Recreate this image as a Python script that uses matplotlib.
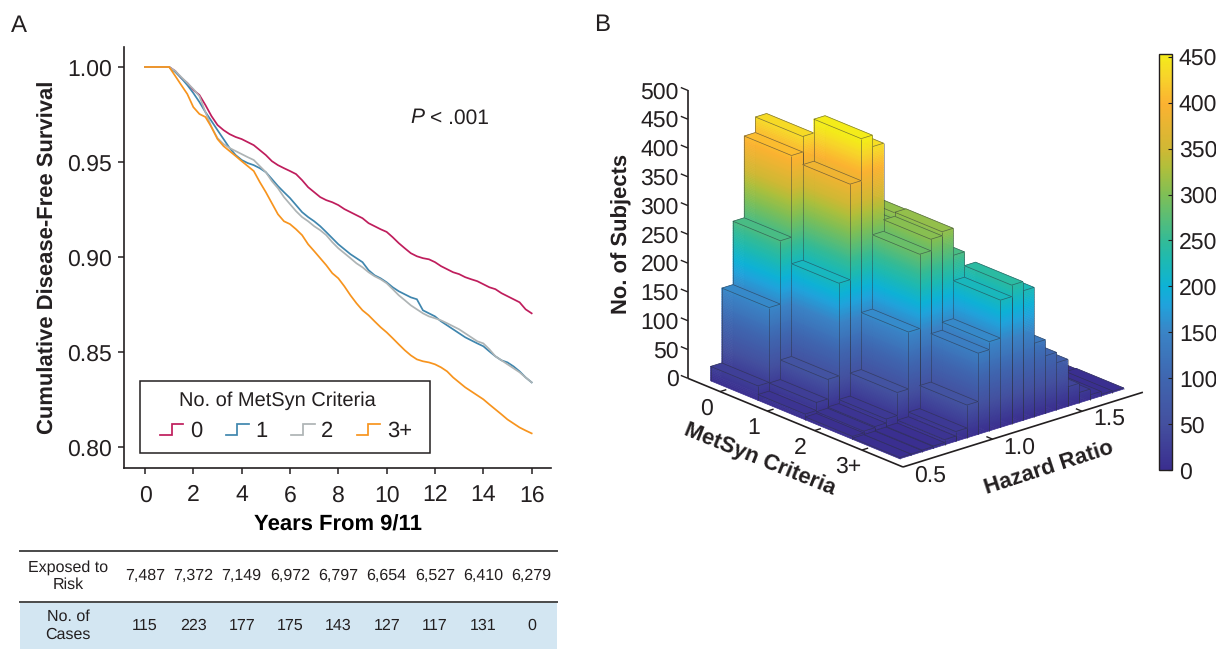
import numpy as np
import matplotlib
matplotlib.use('Agg')
import matplotlib.pyplot as plt
from matplotlib.colors import LinearSegmentedColormap, Normalize
from matplotlib.cm import ScalarMappable
from matplotlib.legend_handler import HandlerLine2D
from matplotlib.lines import Line2D
from matplotlib.patches import Rectangle
from matplotlib.transforms import blended_transform_factory
from mpl_toolkits.mplot3d import proj3d
from mpl_toolkits.mplot3d.art3d import Poly3DCollection, Line3DCollection

plt.rcParams['font.family'] = ['Liberation Sans', 'DejaVu Sans']
plt.rcParams['text.hinting'] = 'none'
plt.rcParams['text.hinting_factor'] = 1
INK = '#231f20'
plt.rcParams['text.color'] = INK

# ---------- data ----------
years = [0, 1, 1.25, 1.5, 1.75, 2, 2.25, 2.5, 2.75, 3, 3.25, 3.5, 3.75, 4, 4.25, 4.5, 4.75, 5, 5.25, 5.5, 5.75,
         6, 6.25, 6.5, 6.75, 7, 7.25, 7.5, 7.75, 8, 8.25, 8.5, 8.75, 9, 9.25, 9.5, 9.75, 10, 10.25, 10.5, 10.75,
         11, 11.25, 11.5, 11.75, 12, 12.25, 12.5, 12.75, 13, 13.25, 13.5, 13.75, 14, 14.25, 14.5, 14.75,
         15, 15.25, 15.5, 15.75, 16]
surv_0 = [1, 1, .9979, .9942, .9916, .9879, .9853, .98, .9742, .9695, .9668, .9647, .9632, .9621, .9605, .9589,
          .9563, .9537, .9505, .9484, .9468, .9453, .9437, .9405, .9368, .9342, .9316, .93, .9289, .9274, .9253,
          .9237, .9221, .9205, .9179, .9163, .9147, .9133, .9105, .9074, .9047, .9021, .9005, .8995, .8989, .8974,
          .8953, .8937, .8921, .8911, .8895, .8884, .8874, .8858, .8842, .8832, .8811, .8795, .8779, .8763, .8726, .8705]
surv_1 = [1, 1, .9974, .9942, .9905, .9863, .9816, .9763, .9716, .9668, .9621, .9574, .9537, .9511, .9495, .9484,
          .9468, .9447, .9411, .9374, .9342, .9311, .9274, .9237, .9211, .9189, .9163, .9132, .91, .9068, .9042,
          .9016, .8995, .8974, .8932, .8905, .8889, .8868, .8842, .8821, .8805, .8789, .8779, .8721, .8705, .8689,
          .8663, .8642, .8621, .86, .8579, .8563, .8547, .8532, .8505, .8479, .8458, .8447, .8426, .84, .8368, .8342]
surv_2 = [1, 1, .9979, .9947, .9916, .9884, .9847, .9763, .9684, .9626, .9595, .9574, .9558, .9542, .9526, .9511,
          .9479, .9447, .94, .9363, .9316, .9279, .9242, .9211, .9189, .9163, .9142, .9116, .9079, .9047, .9021,
          .8995, .8968, .8947, .8921, .89, .8884, .8863, .8832, .88, .8774, .8747, .8726, .8705, .8689, .8679,
          .8668, .8653, .8637, .8621, .86, .8579, .8558, .8547, .8516, .8479, .8458, .8437, .8416, .8395, .8368, .8342]
surv_3 = [1, 1, .9953, .9905, .9858, .9789, .9753, .9737, .9684, .9621, .9584, .9558, .9532, .9505, .9479, .9453,
          .9395, .9342, .9284, .9226, .9189, .9174, .9147, .9116, .9068, .9032, .8995, .8958, .8916, .8889, .8847,
          .88, .8758, .8721, .8695, .8663, .8632, .8605, .8574, .8542, .8511, .8484, .8463, .8453, .8447, .8437,
          .8421, .84, .8368, .8342, .8316, .8295, .8274, .8253, .8226, .82, .8174, .8147, .8126, .8105, .8089, .8074]
legend_labels = ['0', '1', '2', '3+']
curve_colors = ['#bf1d5c', '#3f86ae', '#aeb4b5', '#f7941e']

table_years = [0, 2, 4, 6, 8, 10, 12, 14, 16]
exposed = ['7,487', '7,372', '7,149', '6,972', '6,797', '6,654', '6,527', '6,410', '6,279']
cases = ['115', '223', '177', '175', '143', '127', '117', '131', '0']

metsyn_labels = ['0', '1', '2', '3+']
subjects_0 = [25, 155, 265, 407, 434, 380, 330, 230, 170, 120, 90, 60, 40, 25, 15, 8, 4, 2, 1, 1]
subjects_1 = [10, 24, 58, 219, 385, 458, 438, 300, 311, 275, 235, 185, 135, 95, 65, 40, 22, 12, 5, 2]
subjects_2 = [5, 8, 10, 17, 57, 156, 285, 305, 312, 265, 200, 140, 90, 60, 35, 20, 10, 5, 3, 1]
subjects_3 = [2, 2, 3, 4, 9, 17, 57, 141, 155, 221, 241, 225, 128, 100, 82, 34, 18, 8, 3, 2]
hr_ticks = [0.5, 1.0, 1.5]
z_ticks = [0, 50, 100, 150, 200, 250, 300, 350, 400, 450, 500]
cbar_ticks = [0, 50, 100, 150, 200, 250, 300, 350, 400, 450]

cmap_stops = [(0, '#3a2e8f'), (50, '#44509f'), (100, '#3f66b0'), (150, '#3a84c6'), (180, '#20a3dc'),
              (200, '#0db2d6'), (230, '#1fbab0'), (250, '#33bb97'), (300, '#7fbf56'), (330, '#b0bf3b'),
              (350, '#d0b834'), (400, '#fcb231'), (430, '#f7d52a'), (453, '#f4ec1a')]

# ---------- figure ----------
W, H = 1216, 649
fig = plt.figure(figsize=(W / 100, H / 100), dpi=100, facecolor='white')


def box(l, t, r, b):
    return [l / W, 1 - b / H, (r - l) / W, (b - t) / H]


FS = 16.5
BOLD = 15.8
# ---------- panel A ----------
ax = fig.add_axes(box(124, 47, 551, 468))
for s, c in zip([surv_0, surv_1, surv_2, surv_3], curve_colors):
    ax.plot(years, s, color=c, lw=1.25, solid_joinstyle='miter')
ax.set_xlim(-0.869, 16.8)
ax.set_ylim(0.7892, 1.0105)
ax.set_xticks(range(0, 17, 2))
ax.set_yticks([0.80, 0.85, 0.90, 0.95, 1.00], ['0.80', '0.85', '0.90', '0.95', '1.00'])
ax.tick_params(labelsize=FS, length=4.6, width=1.1, color=INK, labelcolor=INK)
ax.tick_params(axis='x', pad=7.5)
ax.tick_params(axis='y', pad=4)
for k in ('top', 'right'):
    ax.spines[k].set_visible(False)
for k in ('left', 'bottom'):
    ax.spines[k].set_linewidth(1.2)
    ax.spines[k].set_color(INK)
ax.set_xlabel('Years From 9/11', fontsize=BOLD, fontweight='bold', labelpad=6)
fig.text(48 / W, 1 - 257 / H, 'Cumulative Disease-Free Survival', rotation=90, fontsize=BOLD,
         fontweight='bold', ha='center', va='center')
fig.text(410 / W, 1 - 118 / H, 'P', fontsize=15, style='italic', ha='left', va='center')
fig.text(430 / W, 1 - 118 / H, '< .001', fontsize=15, ha='left', va='center')


class StepHandler(HandlerLine2D):
    def create_artists(self, legend, orig, xd, yd, width, height, fontsize, trans):
        x0, y0 = -xd, -yd
        line = Line2D([x0, x0 + .5 * width, x0 + .5 * width, x0 + width],
                      [y0 + .1 * height, y0 + .1 * height, y0 + .8 * height, y0 + .8 * height],
                      color=orig.get_color(), lw=1.25, transform=trans, solid_joinstyle='miter')
        return [line]


handles = [Line2D([], [], color=c) for c in curve_colors]
ax.add_patch(Rectangle((140 / W, 1 - 453 / H), 290 / W, 72 / H, transform=fig.transFigure, facecolor='white',
                       edgecolor=INK, lw=1.1, zorder=4.5, clip_on=False))
ax.text(277 / W, 1 - 401 / H, 'No. of MetSyn Criteria', transform=fig.transFigure, fontsize=14.4,
        ha='center', va='center', zorder=6, clip_on=False)
leg = ax.legend(handles, legend_labels, ncols=4, fontsize=16, loc='center',
                bbox_to_anchor=(286 / W, 1 - 431 / H),
                bbox_transform=fig.transFigure, frameon=False, handlelength=1.05, handletextpad=0.3,
                columnspacing=1.05, borderpad=0.2, labelspacing=0.3, handler_map={Line2D: StepHandler()})

# table
trans = blended_transform_factory(ax.transData, fig.transFigure)
fig.add_artist(Rectangle((20 / W, 0), 537 / W, 1 - 602 / H, transform=fig.transFigure,
                         facecolor='#d3e6f2', edgecolor='none', zorder=-1))
for yy in (551, 602):
    fig.add_artist(Line2D([20 / W, 557 / W], [1 - yy / H] * 2, color='#4a4a4a', lw=1.4))
for x, e, c in zip(table_years, exposed, cases):
    ax.text(x, 1 - 576 / H, e, transform=trans, ha='center', va='center', fontsize=11.3, clip_on=False)
    ax.text(x, 1 - 626 / H, c, transform=trans, ha='center', va='center', fontsize=11.3, clip_on=False)
fig.text(68 / W, 1 - 576 / H, 'Exposed to\nRisk', ha='center', va='center', fontsize=11.3, linespacing=1.25)
fig.text(68 / W, 1 - 626 / H, 'No. of\nCases', ha='center', va='center', fontsize=11.3, linespacing=1.25)
fig.text(11 / W, 1 - 26 / H, 'A', fontsize=17.5, ha='left', va='center')
fig.text(594 / W, 1 - 25 / H, 'B', fontsize=17.5, ha='left', va='center')

# ---------- panel B ----------
cmap = LinearSegmentedColormap.from_list('parulaish', [(v / 453, c) for v, c in cmap_stops])
norm = Normalize(0, 453)
HR0, HR1 = 0.5, 1.84
Y_BACK, Y_FRONT = -0.68, 3.87

S = 600.0
ax3 = fig.add_axes(box(600, 0, 600 + S, S), projection='3d', computed_zorder=False, proj_type='ortho')
ax3.set_xlim(HR0, HR1)
ax3.set_ylim(Y_FRONT, Y_BACK)
ax3.set_zlim(0, 500)
ax3.set_autoscale_on(False)
ax3.set_box_aspect((318, 328, 308.5))
ax3.view_init(elev=21, azim=-131)
ax3.set_axis_off()
ax3.patch.set_alpha(0)


def disp(x, y, z):
    ax3.apply_aspect()
    xs, ys, _ = proj3d.proj_transform(x, y, z, ax3.get_proj())
    return ax3.transData.transform((xs, ys))


# fit the box on the canvas
span = disp(HR1, Y_FRONT, 0)[0] - disp(HR0, Y_BACK, 0)[0]
S = S * (1143 - 688) / span
ax3.set_position(box(600, 0, 600 + S, S))
p = disp(HR0, Y_FRONT, 0)
dx, dy = 903 - p[0], (H - 467) - p[1]
pos = ax3.get_position(original=True)
ax3.set_position([pos.x0 + dx / W, pos.y0 + dy / H, pos.width, pos.height])

rows = [subjects_0, subjects_1, subjects_2, subjects_3]
BIN = 1 / 16
STEP = 3.0
order = 10
for r, row in enumerate(rows):
    y0, y1 = r - 0.40, r + 0.60
    for j in range(len(row) - 1, -1, -1):
        h = row[j]
        x0, x1 = HR0 + (j + 0.85) * BIN, HR0 + (j + 1.85) * BIN
        levels = list(np.arange(0, h, STEP)) + [h]
        polys, cols = [], []
        for a, b in zip(levels[:-1], levels[1:]):
            col = cmap(norm((a + b) / 2))
            polys.append([(x0, y0, a), (x0, y1, a), (x0, y1, b), (x0, y0, b)])
            cols.append(col)
            polys.append([(x0, y1, a), (x1, y1, a), (x1, y1, b), (x0, y1, b)])
            cols.append(col)
        polys.append([(x0, y0, h), (x1, y0, h), (x1, y1, h), (x0, y1, h)])
        cols.append(cmap(norm(h)))
        pc = Poly3DCollection(polys, facecolors=cols, edgecolors=cols, linewidths=0.5, zorder=order)
        ax3.add_collection3d(pc, autolim=False)
        segs = [[(x0, y0, h), (x0, y1, h)], [(x0, y1, h), (x1, y1, h)], [(x1, y1, h), (x1, y0, h)],
                [(x1, y0, h), (x0, y0, h)], [(x0, y1, 0), (x0, y1, h)], [(x1, y1, 0), (x1, y1, h)],
                [(x0, y0, 0), (x0, y0, h)]]
        lc = Line3DCollection(segs, colors='#2b2f3a', linewidths=0.5, alpha=0.6, zorder=order + 0.5)
        ax3.add_collection3d(lc, autolim=False)
        order += 1

AXK = dict(color=INK, lw=1.2, zorder=5, solid_capstyle='butt')
TK = dict(color=INK, lw=1.0, zorder=5, solid_capstyle='butt')
ax3.plot([HR0, HR0], [Y_BACK, Y_BACK], [0, 500], **AXK)
ax3.plot([HR0, HR0], [Y_BACK, Y_FRONT], [0, 0], **AXK)
ax3.plot([HR0, HR1], [Y_FRONT, Y_FRONT], [0, 0], **AXK)


def lab(txt, pt, ox, oy, **kw):
    ax3.annotate(txt, xy=pt, xycoords='figure pixels', xytext=(ox, oy), textcoords='offset pixels',
                 annotation_clip=False, fontsize=FS, **kw)


for z in z_ticks:
    ax3.plot([HR0, HR0], [Y_BACK, Y_BACK - 0.15], [z, z], **TK)
    lab(str(z), disp(HR0, Y_BACK, z), -9, -2, ha='right', va='center')
for i, t in enumerate(metsyn_labels):
    ax3.plot([HR0, HR0 + 0.035], [i, i], [0, 0], **TK)
    lab(t, disp(HR0, i, 0), -14, -17, ha='center', va='center')
for t in hr_ticks:
    if t > HR0:
        ax3.plot([t, t], [Y_FRONT, Y_FRONT - 0.13], [0, 0], **TK)
    lab(f'{t:.1f}', disp(t, Y_FRONT, 0), 27, -9, ha='center', va='center')

fig.text(622 / W, 1 - 234 / H, 'No. of Subjects', rotation=90, fontsize=BOLD, fontweight='bold',
         ha='center', va='center')
fig.text(760 / W, 1 - 460 / H, 'MetSyn Criteria', rotation=-22, fontsize=BOLD, fontweight='bold',
         ha='center', va='center', rotation_mode='anchor')
fig.text(1049 / W, 1 - 469 / H, 'Hazard Ratio', rotation=18, fontsize=BOLD, fontweight='bold',
         ha='center', va='center', rotation_mode='anchor')

# colorbar
cax = fig.add_axes(box(1159, 54, 1172, 470))
cb = fig.colorbar(ScalarMappable(norm=norm, cmap=cmap), cax=cax, ticks=cbar_ticks)
cb.outline.set_edgecolor(INK)
cb.outline.set_linewidth(1.0)
cax.tick_params(direction='in', length=3, width=0.8, labelsize=FS, color=INK, labelcolor=INK, pad=5)

fig.savefig('out.png', dpi=100, facecolor='white')
